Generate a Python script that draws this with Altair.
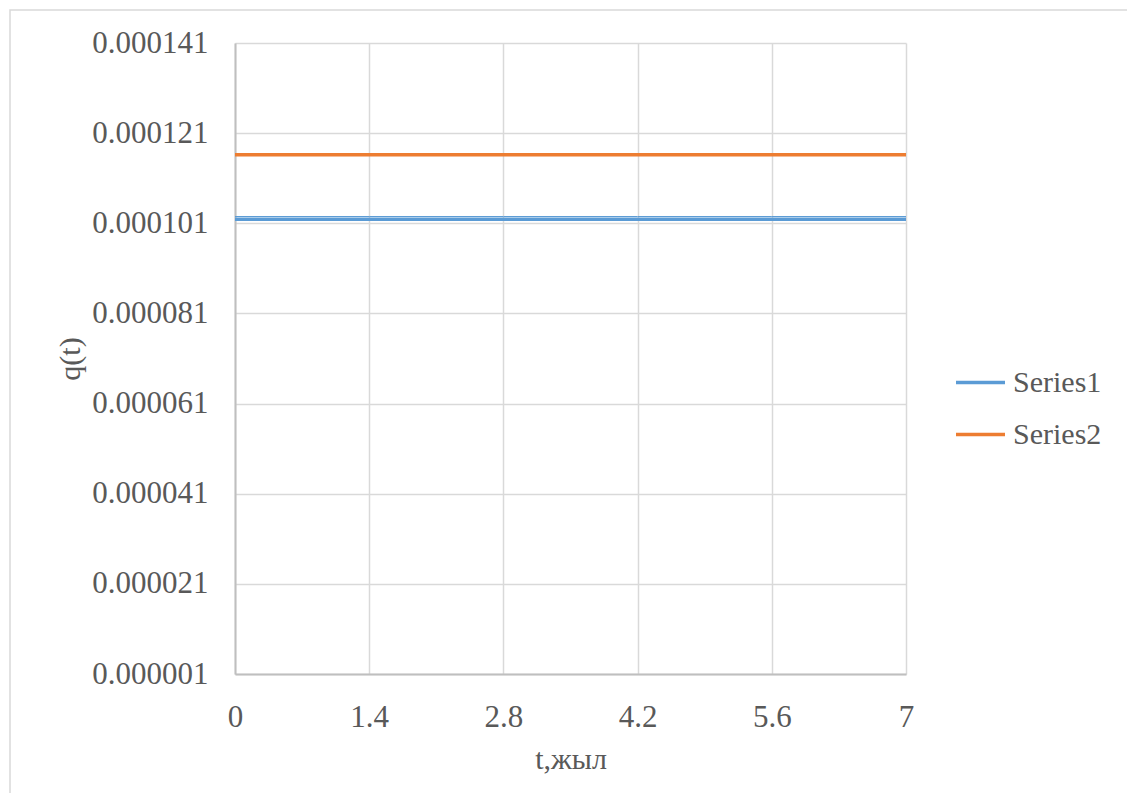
import altair as alt
import pandas as pd

t_values = [0, 1.4, 2.8, 4.2, 5.6, 7]
series1 = [0.0001019, 0.0001019, 0.0001019, 0.0001019, 0.0001019, 0.0001019]
series1_edge = [0.0001025, 0.0001025, 0.0001025, 0.0001025, 0.0001025, 0.0001025]
series2 = [0.0001162, 0.0001162, 0.0001162, 0.0001162, 0.0001162, 0.0001162]
series_names = ["Series1", "Series2"]
colors = ["#5B9BD5", "#ED7D31"]
y_ticks = [0.000001, 0.000021, 0.000041, 0.000061, 0.000081, 0.000101, 0.000121, 0.000141]
x_ticks = [0, 1.4, 2.8, 4.2, 5.6, 7]

df = pd.DataFrame({
    "t": t_values * 2,
    "q": series1 + series2,
    "series": [series_names[0]] * len(t_values) + [series_names[1]] * len(t_values),
})
df_edge = pd.DataFrame({"t": t_values, "q": series1_edge})

FONT = "Liberation Serif"
TXT = "#595959"
FS = 30

x_enc = alt.X("t:Q", scale=alt.Scale(domain=[0, 7], nice=False, zero=False),
              axis=alt.Axis(values=x_ticks, format="~g", title="t,жыл", grid=True,
                            ticks=False, labelPadding=28, titlePadding=12,
                            labelFlush=False,
                            domainColor="#bfbfbf", domainWidth=2))
y_enc = alt.Y("q:Q", scale=alt.Scale(domain=[0.000001, 0.000141], nice=False, zero=False),
              axis=alt.Axis(values=y_ticks, format=".6f", title="q(t)", grid=True,
                            ticks=False, labelPadding=27, titlePadding=6,
                            domainColor="#bfbfbf", domainWidth=2))

lines = alt.Chart(df).mark_line(strokeWidth=3.5).encode(
    x=x_enc,
    y=y_enc,
    color=alt.Color("series:N", scale=alt.Scale(domain=series_names, range=colors),
                    legend=alt.Legend(title=None, orient="none", legendX=719, legendY=313,
                                      symbolType="stroke", symbolSize=2401,
                                      symbolStrokeWidth=3.5, labelFont=FONT,
                                      labelFontSize=FS, labelColor=TXT, rowPadding=10,
                                      labelOffset=6)),
    strokeWidth=alt.condition(alt.datum.series == "Series1", alt.value(2), alt.value(3.5)),
)

edge = alt.Chart(df_edge).mark_line(strokeWidth=1, color=colors[0]).encode(
    x="t:Q", y="q:Q"
)

border = alt.Chart(pd.DataFrame({"a": [0]})).mark_rect(
    fill=None, stroke="#d9d9d9", strokeWidth=1.5
).encode(
    x=alt.value(-225), x2=alt.value(893), y=alt.value(-33), y2=alt.value(753)
)

chart = alt.layer(border, lines, edge).properties(
    width=671, height=631,
    background="white",
    autosize=alt.AutoSizeParams(type="none"),
    padding={"left": 227, "top": 35, "right": 221, "bottom": 119},
).configure_view(stroke=None).configure_axis(
    labelFont=FONT, labelFontSize=31, labelColor=TXT,
    titleFont=FONT, titleFontSize=FS, titleColor=TXT, titleFontWeight="normal",
    gridColor="#d9d9d9", gridWidth=1.5,
)

chart.save("out.html", embed_options={"renderer": "svg", "actions": False})
